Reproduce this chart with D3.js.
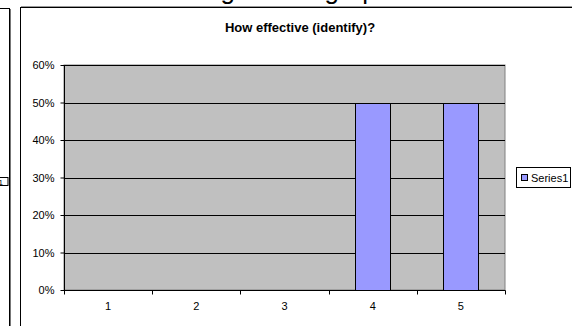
<!DOCTYPE html>
<html>
<head>
<meta charset="utf-8">
<script src="https://cdn.jsdelivr.net/npm/d3@7"></script>
<style>
  html, body { margin: 0; padding: 0; background: #fff; }
  svg { display: block; }
  text { font-family: Arial, "Liberation Sans", sans-serif; }
</style>
</head>
<body>
<svg id="chart" width="572" height="326"></svg>
<script>
// Chart data
const categories = ["1", "2", "3", "4", "5"];
const values = [0, 0, 0, 0.5, 0.5];
const yTicks = [0, 0.1, 0.2, 0.3, 0.4, 0.5, 0.6];
const seriesName = "Series1";
const chartTitle = "How effective (identify)?";
const pageHeading = "Training Needs graph";

const svg = d3.select("#chart");
const W = 572, H = 326;

// Page heading above the chart, mostly cut off by the top edge
svg.append("text")
  .attr("x", 142).attr("y", -1)
  .attr("font-family", "'Liberation Serif', 'Times New Roman', serif")
  .attr("font-size", 26)
  .attr("fill", "#000")
  .text(pageHeading);

// Neighbouring chart frame at the left edge
svg.append("line").attr("x1", 0).attr("x2", 10).attr("y1", 8.5).attr("y2", 8.5)
  .attr("stroke", "#000");
svg.append("line").attr("x1", 9.5).attr("x2", 9.5).attr("y1", 8).attr("y2", H)
  .attr("stroke", "#000");
svg.append("line").attr("x1", 10.5).attr("x2", 10.5).attr("y1", 9).attr("y2", H)
  .attr("stroke", "#777");
svg.append("rect").attr("x", -40).attr("y", 177.5).attr("width", 48).attr("height", 8)
  .attr("fill", "#fff").attr("stroke", "#000");
svg.append("text").attr("x", 3).attr("y", 184.5).attr("text-anchor", "end")
  .attr("font-size", 8).text(seriesName);

// Chart area frame
svg.append("rect").attr("x", 20.5).attr("y", 7.5).attr("width", 600).attr("height", 400)
  .attr("fill", "#fff").attr("stroke", "#000");
svg.append("line").attr("x1", 21).attr("x2", W).attr("y1", 6.5).attr("y2", 6.5)
  .attr("stroke", "#999");

// Plot area geometry
const plot = { left: 64, right: 505, top: 65, bottom: 290 };

const x = d3.scaleBand()
  .domain(categories)
  .range([plot.left, plot.right])
  .paddingInner(0.6)
  .paddingOuter(0.3);
const xBand = d3.scaleBand().domain(categories).range([plot.left, plot.right]);

const y = d3.scaleLinear().domain([0, 0.6]).range([plot.bottom, plot.top]);

// Plot background
svg.append("rect")
  .attr("x", plot.left).attr("y", plot.top)
  .attr("width", plot.right - plot.left).attr("height", plot.bottom - plot.top)
  .attr("fill", "#c0c0c0").attr("stroke", "#808080");

// Horizontal gridlines
svg.append("g").selectAll("line").data(yTicks.filter(d => d > 0)).join("line")
  .attr("x1", plot.left).attr("x2", plot.right)
  .attr("y1", d => Math.round(y(d)) + 0.5).attr("y2", d => Math.round(y(d)) + 0.5)
  .attr("stroke", "#000").attr("stroke-width", 1);

// Bars
svg.append("g").selectAll("rect").data(values).join("rect")
  .attr("x", (d, i) => Math.round(x(categories[i])) + 0.5)
  .attr("y", d => Math.round(y(d)) + 0.5)
  .attr("width", Math.round(x.bandwidth()))
  .attr("height", d => Math.round(y(0)) - Math.round(y(d)))
  .attr("fill", "#9999ff").attr("stroke", "#000")
  .attr("display", d => d > 0 ? null : "none");

// Y axis
const yAxis = svg.append("g")
  .attr("transform", `translate(${plot.left + 0.5},0)`)
  .call(d3.axisLeft(y).tickValues(yTicks).tickFormat(d3.format(".0%")).tickSize(4).tickPadding(6));
yAxis.select(".domain").attr("stroke", "#000").attr("d", `M0,${plot.top}V${plot.bottom + 0.5}`);
yAxis.selectAll(".tick line").attr("stroke", "#000");
yAxis.selectAll(".tick text")
  .attr("font-size", 11).attr("font-family", "Arial, 'Liberation Sans', sans-serif").attr("fill", "#000");

// X axis: labels centred in each category, ticks at category boundaries
const xAxis = svg.append("g")
  .attr("transform", `translate(0,${plot.bottom + 0.5})`)
  .call(d3.axisBottom(xBand).tickSize(0).tickPadding(12));
xAxis.select(".domain").attr("stroke", "#000").attr("d", `M${plot.left},0H${plot.right + 0.5}`);
xAxis.selectAll(".tick text")
  .attr("font-size", 11).attr("font-family", "Arial, 'Liberation Sans', sans-serif").attr("fill", "#000");
const boundaries = categories.map(c => xBand(c)).concat([plot.right]);
xAxis.append("g").selectAll("line").data(boundaries).join("line")
  .attr("x1", d => Math.round(d) + 0.5).attr("x2", d => Math.round(d) + 0.5)
  .attr("y1", 0).attr("y2", 4).attr("stroke", "#000");

// Chart title
svg.append("text")
  .attr("x", 300).attr("y", 32)
  .attr("text-anchor", "middle")
  .attr("font-size", 13).attr("font-weight", "bold")
  .text(chartTitle);

// Legend
const lg = svg.append("g").attr("transform", "translate(516,167)");
lg.append("rect").attr("x", 0.5).attr("y", 0.5).attr("width", 54).attr("height", 20)
  .attr("fill", "#fff").attr("stroke", "#000");
lg.append("rect").attr("x", 5.5).attr("y", 7.5).attr("width", 6).attr("height", 6)
  .attr("fill", "#9999ff").attr("stroke", "#000");
lg.append("text").attr("x", 15).attr("y", 14.5).attr("font-size", 11).text(seriesName);
</script>
</body>
</html>
